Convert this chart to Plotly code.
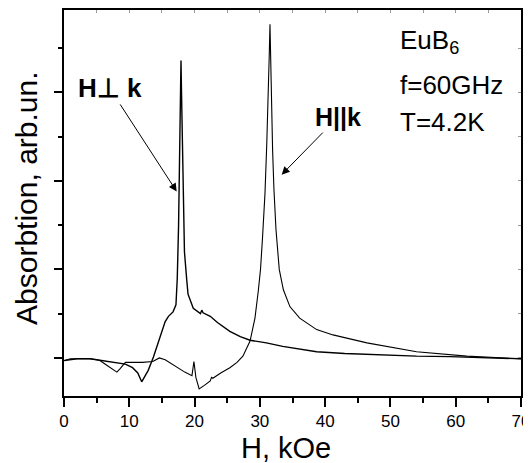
import plotly.graph_objects as go

# H || k curve (field in kOe, absorption in arb. units)
par_x = [0, 1, 2, 3, 4, 5, 5.5, 6.5, 7.5, 8.1, 8.6, 9.4, 10.5, 12, 13.6, 14.6, 15.5, 17, 18.5,
         19.6, 19.9, 20.2, 20.7, 21.5, 22.4, 22.6, 22.8, 24, 25.4, 26.5, 27.4, 28.5, 29.25,
         29.75, 30.1, 30.4, 30.78, 31.05, 31.3, 31.45, 31.55, 31.65, 31.78, 31.95, 32.16,
         32.47, 32.97, 33.6, 34.6, 36.1, 38.7, 41.2, 46.4, 54, 61.7, 70]
par_y = [-0.03, -0.01, -0.01, -0.01, -0.01, -0.02, -0.03, -0.08, -0.13, -0.16, -0.12, -0.05,
         -0.05, -0.05, -0.04, 0.0, -0.02, -0.09, -0.16, -0.2, -0.04, -0.22, -0.35, -0.31,
         -0.26, -0.22, -0.23, -0.17, -0.11, -0.05, 0.02, 0.19, 0.45, 0.75, 1.0, 1.35, 1.85,
         2.4, 2.95, 3.45, 3.77, 3.4, 2.85, 2.35, 1.9, 1.45, 1.0, 0.77, 0.58, 0.45, 0.32, 0.26,
         0.17, 0.07, 0.02, -0.01]

# H perpendicular k curve
perp_x = [0, 1, 2, 3, 4, 5, 6, 7, 8, 9.4, 10.5, 11.3, 11.9, 12.3, 12.9, 13.7, 14.7, 15.5, 16.0,
          16.7, 17.15, 17.35, 17.55, 17.7, 17.85, 17.92, 18.0, 18.15, 18.3, 18.45, 18.8, 19.0,
          19.8, 20.6, 20.9, 21.1, 21.3, 22.4, 23.5, 25.4, 27, 28.5, 31, 33.5, 36.1, 38.7, 43,
          48.9, 54, 59.1, 65, 70]
perp_y = [-0.03, -0.02, -0.01, -0.01, -0.01, -0.02, -0.03, -0.04, -0.05, -0.07, -0.11, -0.17,
          -0.27, -0.22, -0.14, 0.01, 0.24, 0.41, 0.47, 0.52, 0.6, 0.9, 1.5, 2.2, 3.0, 3.36,
          3.0, 2.2, 1.6, 1.2, 0.88, 0.72, 0.56, 0.52, 0.5, 0.54, 0.51, 0.47, 0.4, 0.3, 0.24,
          0.2, 0.17, 0.13, 0.1, 0.07, 0.05, 0.03, 0.02, 0.015, 0.0, -0.01]

x_ticks = [0, 10, 20, 30, 40, 50, 60, 70]
x_title = "H, kOe"
y_title = "Absorbtion, arb.un."

FONT = "Arial, Liberation Sans, sans-serif"
X_RANGE = [0, 70]
Y_RANGE = [-0.43, 3.93]

fig = go.Figure()
fig.add_trace(go.Scatter(x=perp_x, y=perp_y, mode="lines",
                         line=dict(color="black", width=1.4), showlegend=False))
fig.add_trace(go.Scatter(x=par_x, y=par_y, mode="lines",
                         line=dict(color="black", width=1.1), showlegend=False))
# invisible trace to carry the mirrored (top / right) inner tick axes
fig.add_trace(go.Scatter(x=[X_RANGE[0]], y=[Y_RANGE[0]], xaxis="x2", yaxis="y2", mode="markers",
                         marker=dict(opacity=0), showlegend=False, hoverinfo="skip"))

# the page body adds an 8 px offset, so the figure is sized/margined to compensate
fig.update_layout(
    width=523, height=455,
    margin=dict(l=56, r=10, t=2, b=67),
    paper_bgcolor="white", plot_bgcolor="white",
    font=dict(family=FONT, color="black"),
    xaxis=dict(range=X_RANGE, tickmode="array", tickvals=x_ticks,
               ticktext=[str(v) for v in x_ticks],
               ticks="outside", ticklen=9, tickwidth=2, tickcolor="black",
               showline=True, linewidth=2, linecolor="black", mirror=True,
               showgrid=False, zeroline=False, automargin=False,
               minor=dict(dtick=5, tick0=0, ticks="outside", ticklen=5, tickwidth=1.5,
                          tickcolor="black", showgrid=False),
               tickfont=dict(size=17, family=FONT)),
    yaxis=dict(range=Y_RANGE, tick0=0, dtick=1, ticks="outside", ticklen=8,
               tickwidth=2, tickcolor="black", showticklabels=False,
               showline=True, linewidth=2, linecolor="black", mirror=True,
               showgrid=False, zeroline=False, automargin=False,
               minor=dict(dtick=0.5, tick0=0, ticks="outside", ticklen=4, tickwidth=1.5,
                          tickcolor="black", showgrid=False)),
    xaxis2=dict(range=X_RANGE, overlaying="x", side="top", tick0=0, dtick=5, ticks="inside",
                ticklen=3, tickwidth=1, tickcolor="#9a9a9a", showticklabels=False,
                showgrid=False, zeroline=False, showline=False, automargin=False),
    yaxis2=dict(range=Y_RANGE, overlaying="y", side="right", tick0=0, dtick=0.5, ticks="inside",
                ticklen=3, tickwidth=1, tickcolor="#9a9a9a", showticklabels=False,
                showgrid=False, zeroline=False, showline=False, automargin=False),
)

# axis titles
fig.add_annotation(x=0.486, y=-0.1347, xref="paper", yref="paper", text=x_title,
                   showarrow=False, font=dict(size=29, family=FONT),
                   xanchor="center", yanchor="middle")
fig.add_annotation(x=-0.081, y=0.513, xref="paper", yref="paper", text=y_title,
                   showarrow=False, textangle=-90, font=dict(size=30, family=FONT),
                   xanchor="center", yanchor="middle", borderpad=0)

# labels with arrows (text sits at ax/ay, arrow tip at x/y)
fig.add_annotation(x=17.26, y=1.88, ax=6.97, ay=3.05, xref="x", yref="y", axref="x", ayref="y",
                   text="<b>H⊥ k</b>", showarrow=True, arrowhead=2, arrowsize=1.6,
                   arrowwidth=1, arrowcolor="black", font=dict(size=26, family=FONT))
fig.add_annotation(x=33.34, y=2.07, ax=41.96, ay=2.72, xref="x", yref="y", axref="x", ayref="y",
                   text="<b>H||k</b>", showarrow=True, arrowhead=2, arrowsize=1.6,
                   arrowwidth=1, arrowcolor="black", font=dict(size=25, family=FONT))

# sample / conditions text
fig.add_annotation(x=0.731, y=0.918, xref="paper", yref="paper", text="EuB<sub>6</sub>",
                   showarrow=False, font=dict(size=26, family=FONT),
                   xanchor="left", yanchor="middle")
fig.add_annotation(x=0.731, y=0.805, xref="paper", yref="paper", text="f=60GHz",
                   showarrow=False, font=dict(size=26, family=FONT),
                   xanchor="left", yanchor="middle")
fig.add_annotation(x=0.731, y=0.711, xref="paper", yref="paper", text="T=4.2K",
                   showarrow=False, font=dict(size=26, family=FONT),
                   xanchor="left", yanchor="middle")

fig.write_html("out.html")
